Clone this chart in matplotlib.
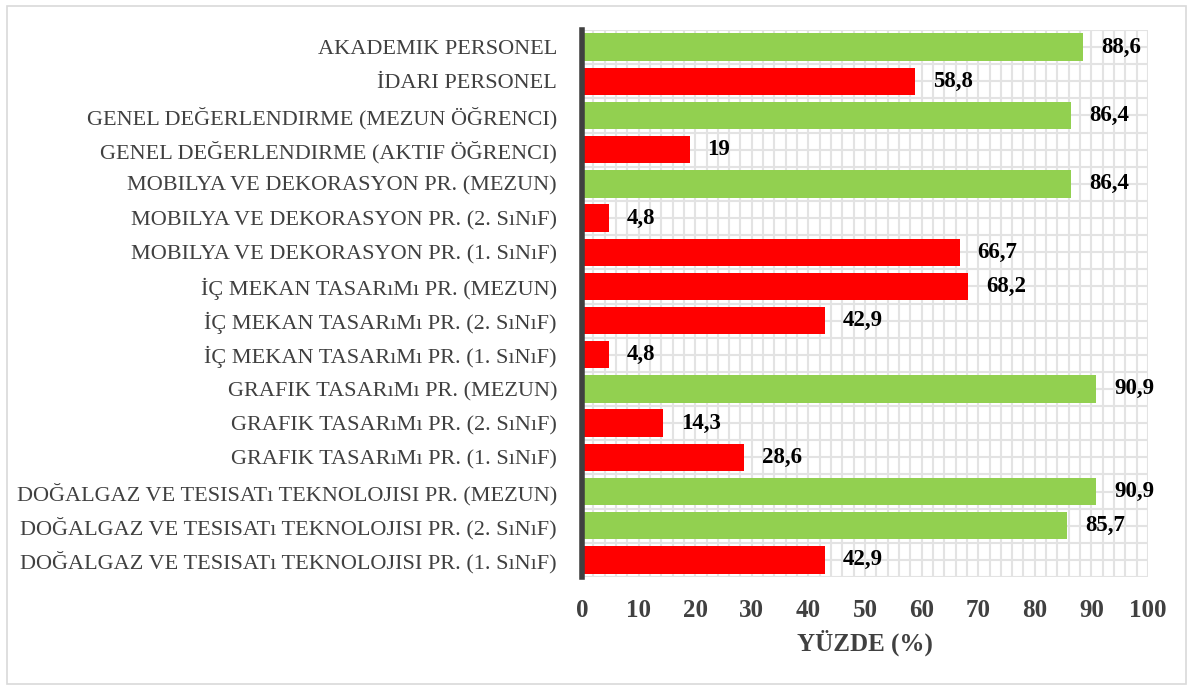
import matplotlib
matplotlib.use("Agg")
import matplotlib.pyplot as plt
from matplotlib.patches import Rectangle
from matplotlib.ticker import MultipleLocator

categories = [
    "AKADEMIK PERSONEL",
    "İDARI PERSONEL",
    "GENEL DEĞERLENDIRME (MEZUN ÖĞRENCI)",
    "GENEL DEĞERLENDIRME (AKTIF ÖĞRENCI)",
    "MOBILYA VE DEKORASYON PR. (MEZUN)",
    "MOBILYA VE DEKORASYON PR. (2. SıNıF)",
    "MOBILYA VE DEKORASYON PR. (1. SıNıF)",
    "İÇ MEKAN TASARıMı PR. (MEZUN)",
    "İÇ MEKAN TASARıMı PR. (2. SıNıF)",
    "İÇ MEKAN TASARıMı PR. (1. SıNıF)",
    "GRAFIK TASARıMı PR. (MEZUN)",
    "GRAFIK TASARıMı PR. (2. SıNıF)",
    "GRAFIK TASARıMı PR. (1. SıNıF)",
    "DOĞALGAZ VE TESISATı TEKNOLOJISI PR. (MEZUN)",
    "DOĞALGAZ VE TESISATı TEKNOLOJISI PR. (2. SıNıF)",
    "DOĞALGAZ VE TESISATı TEKNOLOJISI PR. (1. SıNıF)",
]
values = [88.6, 58.8, 86.4, 19, 86.4, 4.8, 66.7, 68.2, 42.9, 4.8, 90.9, 14.3, 28.6, 90.9, 85.7, 42.9]
value_labels = ["88,6", "58,8", "86,4", "19", "86,4", "4,8", "66,7", "68,2", "42,9", "4,8",
                "90,9", "14,3", "28,6", "90,9", "85,7", "42,9"]
GREEN = "#92D050"
RED = "#FF0000"
bar_colors = [GREEN, RED, GREEN, RED, GREEN, RED, RED, RED, RED, RED, GREEN, RED, RED, GREEN, GREEN, RED]
x_ticks = [0, 10, 20, 30, 40, 50, 60, 70, 80, 90, 100]
x_label = "YÜZDE (%)"

plt.rcParams['font.family'] = ['Liberation Serif', 'DejaVu Serif']

fig = plt.figure(figsize=(11.93, 6.90), dpi=100)
fig.patches.append(Rectangle((0.006, 0.008), 0.988, 0.984, transform=fig.transFigure,
                             fill=False, edgecolor="#D9D9D9", linewidth=1.2))
ax = fig.add_axes([582/1193, 1-577/690, (1148-582)/1193, (577-30)/690])

n = len(categories)
ypos = list(range(n))
ax.barh(ypos, values, height=0.8, color=bar_colors, zorder=3)
ax.set_ylim(n - 0.5, -0.5)
ax.set_xlim(0, 100)

ax.set_yticks(ypos)
ax.set_yticklabels(categories, fontsize=16, color="#404040")
ax.set_xticks(x_ticks)
ax.set_xticklabels([str(t) for t in x_ticks], fontsize=18, fontweight="bold", color="#404040")
ax.tick_params(axis="both", which="both", length=0)
ax.tick_params(axis="y", pad=18)
ax.tick_params(axis="x", pad=16)

ax.xaxis.set_minor_locator(MultipleLocator(2))
ax.yaxis.set_minor_locator(MultipleLocator(0.5))
ax.grid(True, which="both", color="#E3E3E3", linewidth=1.5, zorder=0)
ax.set_axisbelow(True)

for s in ["top", "right", "bottom"]:
    ax.spines[s].set_visible(False)
ax.spines["left"].set_color("#404040")
ax.spines["left"].set_linewidth(4)
ax.spines["left"].set_zorder(4)

for y, v, lab in zip(ypos, values, value_labels):
    ax.annotate(lab, (v, y), xytext=(13, 0), textcoords="offset points",
                va="center", ha="left", fontsize=16.5, fontweight="bold", color="black", zorder=5)

ax.set_xlabel(x_label, fontsize=18, fontweight="bold", color="#404040", labelpad=5)

fig.savefig("out.png", dpi=100)
